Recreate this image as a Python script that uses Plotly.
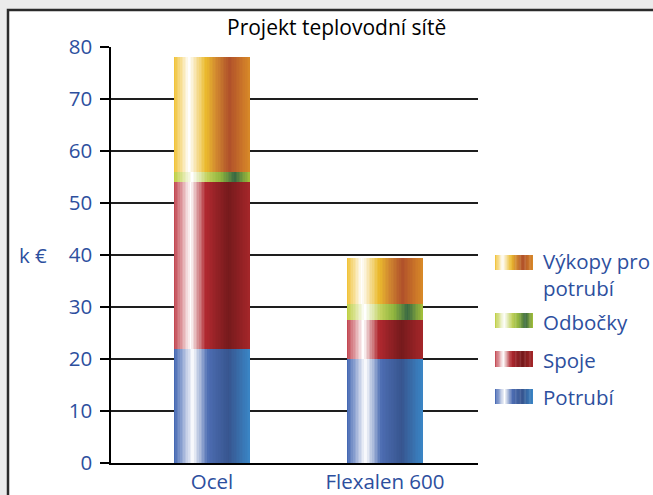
import plotly.graph_objects as go
from plotly.colors import sample_colorscale

# ---- data ----
categories = ["Ocel", "Flexalen 600"]
series_names = ["Potrubí", "Spoje", "Odbočky", "Výkopy pro potrubí"]
potrubi = [22, 20]
spoje = [32, 7.5]
odbocky = [2, 3]
vykopy = [22, 9]
y_ticks = [0, 10, 20, 30, 40, 50, 60, 70, 80]
title_text = "Projekt teplovodní sítě"
y_label = "k €"

# ---- styling ----
BLUE_TXT = "#2d4f9e"
FONT = "Open Sans"
FS = 20.5
scales = {
    "Potrubí": [[0, "#3e62b0"], [0.25, "#ffffff"], [0.45, "#4d6db2"], [0.72, "#37558f"], [1, "#3a86c6"]],
    "Spoje": [[0, "#c0404a"], [0.22, "#ffffff"], [0.42, "#b0282f"], [0.72, "#761a1c"], [1, "#a52629"]],
    "Odbočky": [[0, "#bccd3c"], [0.24, "#ffffff"], [0.45, "#bfd05a"], [0.62, "#8fb43e"], [0.8, "#3a6a42"], [1, "#a6c23a"]],
    "Výkopy pro potrubí": [[0, "#f0c030"], [0.2, "#ffffff"], [0.42, "#ebbb2e"], [0.55, "#d38c30"], [0.73, "#b0502a"], [1, "#d98a28"]],
}
values = {"Potrubí": potrubi, "Spoje": spoje, "Odbočky": odbocky, "Výkopy pro potrubí": vykopy}

N = 48
BW = 0.44
strip_w = BW / N
fracs = [(i + 0.5) / N for i in range(N)]

fig = go.Figure()
for name in series_names:
    cols = sample_colorscale(scales[name], fracs)
    xs, ys, cs = [], [], []
    for ci, _ in enumerate(categories):
        for i, f in enumerate(fracs):
            xs.append(ci - BW / 2 + f * BW)
            ys.append(values[name][ci])
            cs.append(cols[i])
    fig.add_trace(go.Bar(
        x=xs, y=ys, width=strip_w * 1.35,
        marker=dict(color=cs, line=dict(width=0)),
        name=name, showlegend=False, hoverinfo="skip",
    ))

# plot geometry (pixels)
L, R, T, B = 111, 175, 47, 32
W, H = 653, 495
pw, ph = W - L - R, H - T - B


def px(x):
    return (x - L) / pw


def py(y):
    return (H - B - y) / ph


shapes = []
# white frame
shapes.append(dict(type="rect", xref="paper", yref="paper", x0=px(8), x1=px(700), y0=py(540), y1=py(10),
                   fillcolor="white", line=dict(color="#2a2a2a", width=2.5), layer="below"))
# y axis extension below zero
shapes.append(dict(type="line", xref="paper", yref="y", x0=0, x1=0, ysizemode="pixel", yanchor=0,
                   y0=0, y1=-9, line=dict(color="black", width=1.5)))

annotations = [
    dict(text=title_text, xref="paper", yref="paper", x=px(336), y=py(27), showarrow=False,
         font=dict(family=FONT, size=21, color="black"), xanchor="center", yanchor="middle"),
    dict(text=y_label, xref="paper", yref="paper", x=px(33), y=py(255), showarrow=False,
         font=dict(family=FONT, size=FS, color=BLUE_TXT), xanchor="center", yanchor="middle"),
]

# custom legend
legend_items = [
    ("Výkopy pro potrubí", "Výkopy pro<br>potrubí", 255, 270, 274),
    ("Odbočky", "Odbočky", 313, 328, 322),
    ("Spoje", "Spoje", 351, 367, 360),
    ("Potrubí", "Potrubí", 389, 404, 397),
]
SW0, SW1 = 495, 533
NS = 30
for name, label, y0, y1, ty in legend_items:
    cols = sample_colorscale(scales[name], [(i + 0.5) / NS for i in range(NS)])
    for i in range(NS):
        a = SW0 + (SW1 - SW0) * i / NS
        b = SW0 + (SW1 - SW0) * (i + 1.3) / NS
        b = min(b, SW1)
        shapes.append(dict(type="rect", xref="paper", yref="paper", x0=px(a), x1=px(b),
                           y0=py(y1), y1=py(y0), fillcolor=cols[i], line=dict(width=0), layer="above"))
    annotations.append(dict(text=label, xref="paper", yref="paper", x=px(541), y=py(ty),
                            showarrow=False, xanchor="left", yanchor="middle", align="left",
                            font=dict(family=FONT, size=FS, color=BLUE_TXT)))

fig.update_layout(
    width=W, height=H,
    margin=dict(l=L, r=R, t=T, b=B, pad=0, autoexpand=False),
    paper_bgcolor="#ebebeb", plot_bgcolor="rgba(0,0,0,0)",
    barmode="stack", showlegend=False,
    shapes=shapes, annotations=annotations,
    font=dict(family=FONT, size=FS, color=BLUE_TXT),
    xaxis=dict(range=[-0.584, 1.538], tickvals=list(range(len(categories))), ticktext=categories,
               showgrid=False, zeroline=False, showline=True, linecolor="black", linewidth=1.5,
               ticks="", automargin=False,
               tickfont=dict(family=FONT, size=FS, color=BLUE_TXT), fixedrange=True),
    yaxis=dict(range=[0, 80], tickvals=y_ticks, showgrid=True, gridcolor="#1e1e1e", gridwidth=1.5,
               zeroline=False, showline=True, linecolor="black", linewidth=1.5,
               ticks="outside", ticklen=9, tickcolor="black", tickwidth=1.5,
               ticklabelstandoff=4, automargin=False,
               tickfont=dict(family=FONT, size=FS, color=BLUE_TXT), fixedrange=True),
)

fig.write_html("out.html", config={"displayModeBar": False},
               post_script="document.body.style.margin='0';document.body.style.overflow='hidden';")
